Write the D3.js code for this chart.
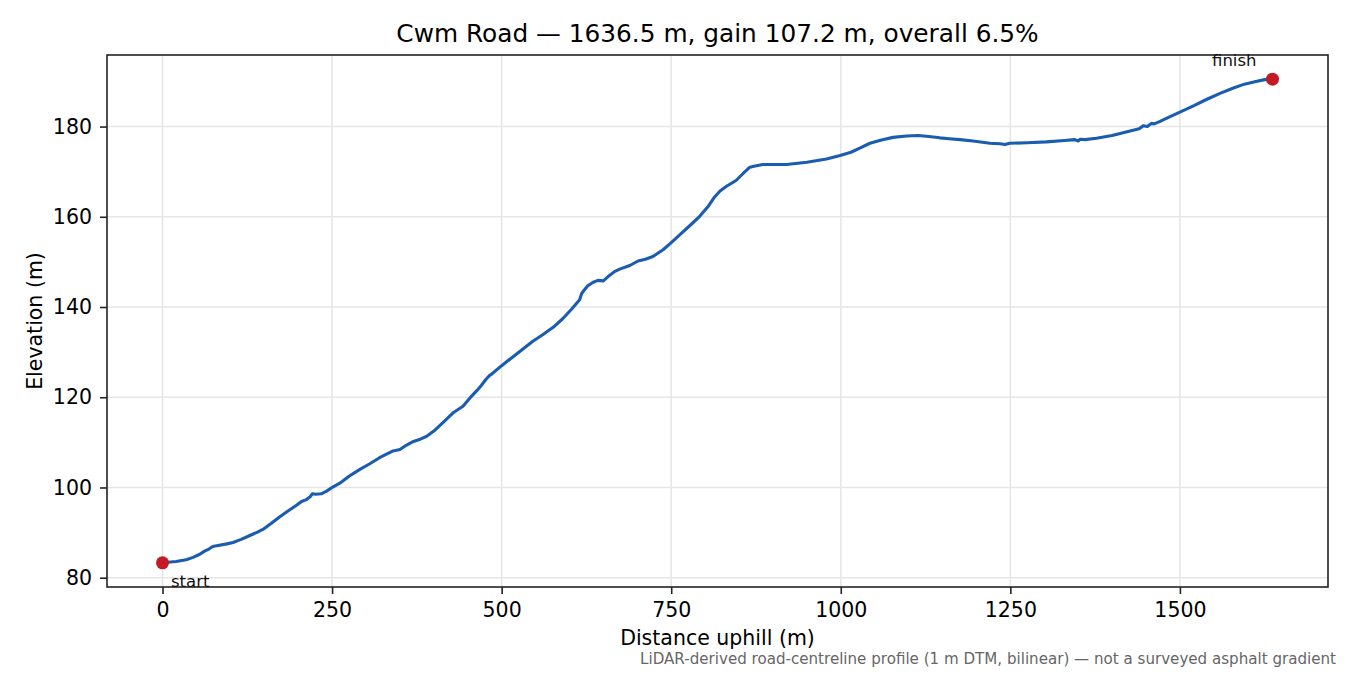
<!DOCTYPE html>
<html>
<head>
<meta charset="utf-8">
<script src="https://cdn.jsdelivr.net/npm/d3@7/dist/d3.min.js"></script>
<style>
  html, body { margin: 0; padding: 0; background: #fff; }
  svg { display: block; font-family: "DejaVu Sans", sans-serif; }
</style>
</head>
<body>
<svg id="chart" width="1350" height="675"></svg>
<script>
// ---- data ----
const distance = [0, 20, 35, 45, 55, 62, 69, 74, 80, 95, 104, 116, 128, 140, 148, 160, 172, 185, 197, 205, 212, 218, 221, 226, 234, 242, 251, 262, 275, 291, 305, 320, 340, 350, 360, 370, 380, 389, 400, 415, 428, 443, 453, 463, 470, 477, 482, 485, 500, 522, 546, 560, 576, 590, 603, 615, 618, 621, 627, 635, 642, 650, 659, 667, 674, 689, 701, 712, 723, 738, 748, 767, 780, 792, 804, 814, 822, 831, 846, 856, 866, 872, 885, 900, 920, 950, 979, 999, 1015, 1028, 1043, 1060, 1077, 1097, 1114, 1130, 1146, 1160, 1176, 1195, 1220, 1235, 1242, 1249, 1275, 1303, 1330, 1345, 1350, 1353, 1360, 1377, 1400, 1431, 1440, 1446, 1452, 1458, 1462, 1470, 1480, 1500, 1520, 1539, 1560, 1578, 1595, 1612, 1625, 1636.5];
const elevation = [83.3, 83.6, 84.0, 84.5, 85.2, 85.9, 86.4, 86.9, 87.1, 87.5, 87.8, 88.5, 89.3, 90.1, 90.7, 92.0, 93.4, 94.8, 96.0, 96.9, 97.3, 98.0, 98.6, 98.5, 98.6, 99.2, 100.1, 101.0, 102.5, 104.0, 105.2, 106.6, 108.1, 108.4, 109.4, 110.2, 110.7, 111.3, 112.5, 114.6, 116.5, 118.0, 119.8, 121.4, 122.6, 124.0, 124.8, 125.1, 127.0, 129.6, 132.4, 133.8, 135.5, 137.4, 139.5, 141.6, 143.0, 143.6, 144.7, 145.5, 145.9, 145.8, 147.0, 147.9, 148.4, 149.2, 150.2, 150.6, 151.2, 152.7, 154.0, 156.6, 158.4, 160.1, 162.2, 164.4, 165.7, 166.7, 168.1, 169.6, 171.0, 171.2, 171.6, 171.6, 171.6, 172.1, 172.8, 173.6, 174.3, 175.2, 176.3, 177.0, 177.6, 177.9, 178.0, 177.8, 177.5, 177.3, 177.1, 176.8, 176.3, 176.2, 176.0, 176.3, 176.4, 176.6, 176.9, 177.1, 176.8, 177.2, 177.1, 177.4, 178.0, 179.2, 179.5, 180.2, 180.0, 180.7, 180.6, 181.1, 181.8, 183.2, 184.6, 186.0, 187.4, 188.5, 189.4, 190.0, 190.4, 190.5];
const xTicks = [0, 250, 500, 750, 1000, 1250, 1500];
const yTicks = [80, 100, 120, 140, 160, 180];
const titleText = "Cwm Road \u2014 1636.5 m, gain 107.2 m, overall 6.5%";
const xLabel = "Distance uphill (m)";
const yLabel = "Elevation (m)";
const footText = "LiDAR-derived road-centreline profile (1 m DTM, bilinear) \u2014 not a surveyed asphalt gradient";

// ---- layout ----
const svg = d3.select("#chart");
const L = 107, R = 1328, T = 55, B = 587;
const xMin = d3.min(distance), xMax = d3.max(distance);
const yMin = d3.min(elevation), yMax = d3.max(elevation);
const xPad = (xMax - xMin) * 0.05, yPad = (yMax - yMin) * 0.05;
const x = d3.scaleLinear().domain([xMin - xPad, xMax + xPad]).range([L, R]);
const y = d3.scaleLinear().domain([yMin - yPad, yMax + yPad]).range([B, T]);

// grid
const grid = svg.append("g").attr("stroke", "#e6e6e6").attr("stroke-width", 1.6);
xTicks.forEach(t => grid.append("line").attr("x1", x(t)).attr("x2", x(t)).attr("y1", T).attr("y2", B));
yTicks.forEach(t => grid.append("line").attr("y1", y(t)).attr("y2", y(t)).attr("x1", L).attr("x2", R));

// axes
const xAxis = svg.append("g").attr("transform", `translate(0,${B})`)
  .call(d3.axisBottom(x).tickValues(xTicks).tickSize(7).tickPadding(8).tickFormat(d3.format("d")));
const yAxis = svg.append("g").attr("transform", `translate(${L},0)`)
  .call(d3.axisLeft(y).tickValues(yTicks).tickSize(7).tickPadding(8).tickFormat(d3.format("d")));
[xAxis, yAxis].forEach(a => {
  a.select(".domain").remove();
  a.selectAll("text").attr("font-size", 20.5).attr("fill", "#000").attr("font-family", "DejaVu Sans");
  a.selectAll("line").attr("stroke", "#222").attr("stroke-width", 1.6);
});

// line
const line = d3.line().x((d, i) => x(distance[i])).y(d => y(d));
svg.append("path").datum(elevation)
  .attr("d", line).attr("fill", "none")
  .attr("stroke", "#1a5cb0").attr("stroke-width", 3.1)
  .attr("stroke-linejoin", "round").attr("stroke-linecap", "round");

// frame
svg.append("rect").attr("x", L).attr("y", T).attr("width", R - L).attr("height", B - T)
  .attr("fill", "none").attr("stroke", "#222").attr("stroke-width", 1.6);

// endpoints
const n = distance.length - 1;
[0, n].forEach(i => {
  svg.append("circle").attr("cx", x(distance[i])).attr("cy", y(elevation[i])).attr("r", 6.5).attr("fill", "#c41a26");
});
svg.append("text").attr("x", x(distance[0]) + 8.5).attr("y", y(elevation[0]) + 24)
  .attr("font-size", 16.5).attr("fill", "#111").text("start");
svg.append("text").attr("x", x(distance[n]) - 16).attr("y", y(elevation[n]) - 13)
  .attr("text-anchor", "end").attr("font-size", 16.5).attr("fill", "#111").text("finish");

// texts
svg.append("text").attr("x", (L + R) / 2).attr("y", 42).attr("text-anchor", "middle")
  .attr("font-size", 24.8).attr("fill", "#000").text(titleText);
svg.append("text").attr("x", (L + R) / 2).attr("y", 645).attr("text-anchor", "middle")
  .attr("font-size", 20.5).attr("fill", "#000").text(xLabel);
svg.append("text").attr("transform", `translate(42,${(T + B) / 2}) rotate(-90)`).attr("text-anchor", "middle")
  .attr("font-size", 20.5).attr("fill", "#000").text(yLabel);
svg.append("text").attr("x", 1336).attr("y", 664).attr("text-anchor", "end")
  .attr("font-size", 15.1).attr("fill", "#666").text(footText);
</script>
</body>
</html>
